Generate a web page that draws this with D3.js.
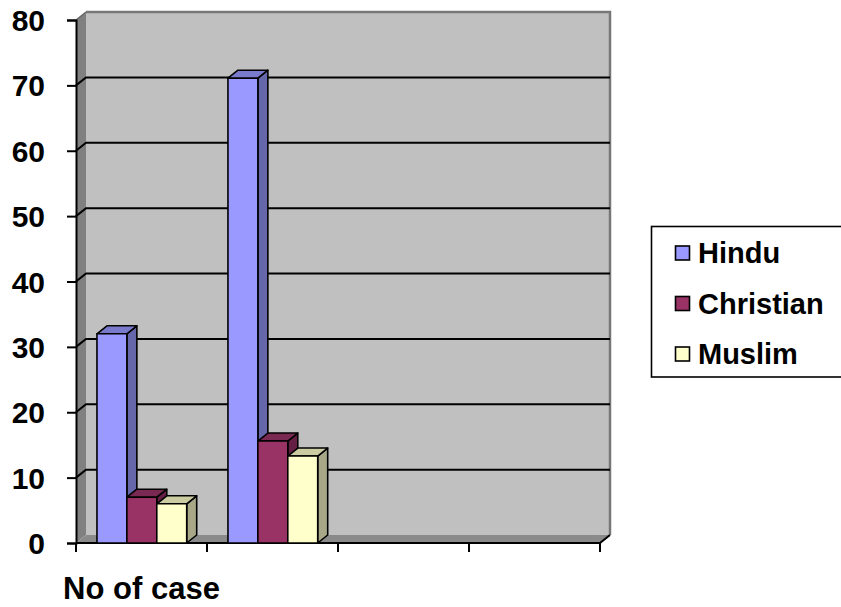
<!DOCTYPE html>
<html>
<head>
<meta charset="utf-8">
<script src="https://cdn.jsdelivr.net/npm/d3@7"></script>
<style>
  html, body { margin: 0; padding: 0; background: #fff; }
  svg text { font-family: "Liberation Sans", Arial, sans-serif; font-weight: bold; fill: #000; }
</style>
</head>
<body>
<svg id="chart" width="841" height="607"></svg>
<script>
// Categories along the x axis (four slots, only the first is labelled)
const categories = ["No of case", "%", "c3", "c4"];
const categoryLabels = ["No of case", "", "", ""];
// Series
const seriesNames = ["Hindu", "Christian", "Muslim"];
const hindu = [32, 71.1];
const christian = [7, 15.6];
const muslim = [6, 13.3];
// Value axis ticks
const yTicks = [0, 10, 20, 30, 40, 50, 60, 70, 80];

const seriesValues = [hindu, christian, muslim];
const frontColors = ["#9999ff", "#993366", "#ffffcc"];
const topColors = ["#7a7acc", "#7a2952", "#cccca3"];
const sideColors = ["#6666aa", "#661f44", "#a8a888"];

const svg = d3.select("#chart");

// 3D depth offset of the plot box
const DX = 10, DY = -8;

const y = d3.scaleLinear().domain([0, 80]).range([543, 20]);
const x = d3.scaleBand().domain(categories).range([76, 600]).paddingInner(0).paddingOuter(0);
const xs = d3.scaleBand().domain(seriesNames)
  .range([x.bandwidth() * 0.16, x.bandwidth() * 0.845]);

const x0 = x.range()[0], x1 = x.range()[1];
const yTop = y(80), yBot = y(0);

const pts = a => a.map(p => p.join(",")).join(" ");

// Side wall
svg.append("polygon")
  .attr("points", pts([[x0, yTop], [x0 + DX, yTop + DY], [x0 + DX, yBot + DY], [x0, yBot]]))
  .attr("fill", "#808080");

// Back wall
svg.append("polygon")
  .attr("points", pts([[x0 + DX, yTop + DY], [x1 + DX, yTop + DY], [x1 + DX, yBot + DY], [x0 + DX, yBot + DY]]))
  .attr("fill", "#c0c0c0");
// Back wall top and right rim
svg.append("polyline")
  .attr("points", pts([[x0 + DX, yTop + DY], [x1 + DX, yTop + DY], [x1 + DX, yBot + DY]]))
  .attr("fill", "none").attr("stroke", "#777").attr("stroke-width", 2.5);
svg.append("line")
  .attr("x1", x0).attr("y1", yTop).attr("x2", x0 + DX).attr("y2", yTop + DY)
  .attr("stroke", "#666").attr("stroke-width", 1.5);

// Floor
svg.append("polygon")
  .attr("points", pts([[x0, yBot], [x0 + DX, yBot + DY], [x1 + DX, yBot + DY], [x1, yBot]]))
  .attr("fill", "#8a8a8a");

// Gridlines on side wall and back wall
const grid = yTicks.filter(v => v > 0 && v < 80);
svg.append("g").selectAll("polyline").data(grid).join("polyline")
  .attr("points", v => pts([[x0, y(v)], [x0 + DX, y(v) + DY], [x1 + DX, y(v) + DY]]))
  .attr("fill", "none").attr("stroke", "#000").attr("stroke-width", 2);

// Floor edges
svg.append("polyline")
  .attr("points", pts([[x0, yBot], [x1, yBot], [x1 + DX, yBot + DY]]))
  .attr("fill", "none").attr("stroke", "#000").attr("stroke-width", 2);

// Value axis
const yAxis = d3.axisLeft(y).tickValues(yTicks).tickSize(9).tickPadding(22).tickFormat(d3.format("d"));
const gy = svg.append("g").attr("transform", `translate(${x0},0)`).call(yAxis);
gy.attr("font-family", null).attr("font-size", null);
gy.select(".domain").attr("stroke", "#000").attr("stroke-width", 2);
gy.selectAll(".tick line").attr("stroke", "#000").attr("stroke-width", 2);
gy.selectAll(".tick text").attr("font-size", 30).attr("dy", "0.35em");

// Category axis ticks
const gx = svg.append("g");
gx.selectAll("line").data(d3.range(categories.length + 1)).join("line")
  .attr("x1", i => x0 + i * x.step()).attr("x2", i => x0 + i * x.step())
  .attr("y1", yBot).attr("y2", yBot + 9)
  .attr("stroke", "#000").attr("stroke-width", 2);
gx.selectAll("text").data(categories).join("text")
  .attr("x", d => x(d) + x.bandwidth() / 2)
  .attr("y", 599)
  .attr("text-anchor", "middle")
  .attr("font-size", 31)
  .text((d, i) => categoryLabels[i]);

// Bars: front face, top face, right side face
const bars = [];
categories.forEach((c, ci) => {
  seriesNames.forEach((s, si) => {
    const v = seriesValues[si][ci];
    if (v !== undefined) bars.push({ c, s, si, v });
  });
});

const gb = svg.append("g");
bars.forEach(b => {
  const bx = x(b.c) + xs(b.s), bw = xs.bandwidth();
  const yt = y(b.v), yb = y(0);
  const g = gb.append("g").attr("stroke", "#000").attr("stroke-width", 1.6).attr("stroke-linejoin", "round");
  g.append("polygon")
    .attr("points", pts([[bx + bw, yt], [bx + bw + DX, yt + DY], [bx + bw + DX, yb + DY], [bx + bw, yb]]))
    .attr("fill", sideColors[b.si]);
  g.append("polygon")
    .attr("points", pts([[bx, yt], [bx + DX, yt + DY], [bx + bw + DX, yt + DY], [bx + bw, yt]]))
    .attr("fill", topColors[b.si]);
  g.append("rect")
    .attr("x", bx).attr("y", yt).attr("width", bw).attr("height", yb - yt)
    .attr("fill", frontColors[b.si]);
});

// Legend
const lg = svg.append("g");
lg.append("rect").attr("x", 651.5).attr("y", 226.5).attr("width", 200).attr("height", 150.5)
  .attr("fill", "#fff").attr("stroke", "#000").attr("stroke-width", 1.6);
const rowY = d3.scalePoint().domain(seriesNames).range([253, 354]);
const items = lg.selectAll("g.item").data(seriesNames).join("g").attr("class", "item")
  .attr("transform", d => `translate(0,${rowY(d)})`);
items.append("rect").attr("x", 675.5).attr("y", -7).attr("width", 14).attr("height", 14)
  .attr("fill", (d, i) => frontColors[i]).attr("stroke", "#000").attr("stroke-width", 1.6);
items.append("text").attr("x", 698).attr("dy", "0.36em").attr("font-size", 29).text(d => d);
</script>
</body>
</html>
